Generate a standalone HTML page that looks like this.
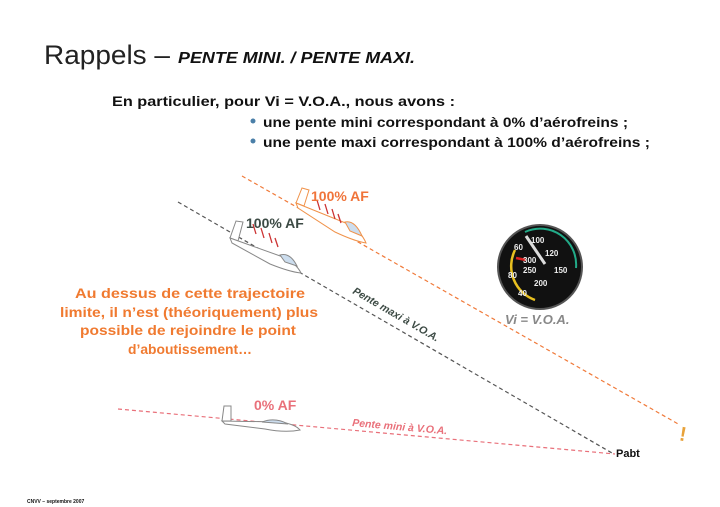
<!DOCTYPE html>
<html><head><meta charset="utf-8"><style>
body{margin:0;background:#fff;}
svg{display:block}
text{font-family:"Liberation Sans",sans-serif}
</style></head><body>
<svg width="720" height="507" viewBox="0 0 720 507" xmlns="http://www.w3.org/2000/svg">
<text x="44" y="64" font-size="27" fill="#222" textLength="126" lengthAdjust="spacingAndGlyphs">Rappels –</text>
<text x="178" y="63" font-size="16" font-style="italic" font-weight="bold" fill="#111" textLength="237" lengthAdjust="spacingAndGlyphs">PENTE MINI. / PENTE MAXI.</text>
<text x="112" y="106" font-size="14" font-weight="bold" fill="#111" textLength="343" lengthAdjust="spacingAndGlyphs">En particulier, pour Vi = V.O.A., nous avons :</text>
<circle cx="253" cy="121" r="2.5" fill="#4a7fa8"/><circle cx="253" cy="141" r="2.5" fill="#4a7fa8"/>
<text x="263" y="127" font-size="14" font-weight="bold" fill="#111" textLength="365" lengthAdjust="spacingAndGlyphs">une pente mini correspondant à 0% d’aérofreins ;</text>
<text x="263" y="147" font-size="14" font-weight="bold" fill="#111" textLength="387" lengthAdjust="spacingAndGlyphs">une pente maxi correspondant à 100% d’aérofreins ;</text>

<line x1="178" y1="202" x2="612" y2="453" stroke="#555" stroke-width="1.2" stroke-dasharray="4,3"/>
<line x1="242" y1="176" x2="680" y2="425" stroke="#f07a3a" stroke-width="1.2" stroke-dasharray="4,3"/>
<line x1="118" y1="409" x2="615" y2="454" stroke="#e9707a" stroke-width="1.2" stroke-dasharray="4,3"/>

<!-- grey glider -->
<g stroke="#888" fill="#fff" stroke-width="1">
<path d="M230,238 L236,221 L243,222 L238,241 Z"/>
<path d="M230,238 L283,257 Q296,263 301,273 Q290,272 270,264 L232,243 Z"/>
<path d="M280,255 Q290,252 297,266 L285,262 Z" fill="#cde"/>
</g>
<g stroke="#c33" stroke-width="1.3" fill="none"><path d="M256,234 l-3,-10 M264,238 l-3,-10 M272,243 l-3,-10 M278,247 l-3,-9"/></g>
<text x="246" y="228" font-size="14" font-weight="bold" fill="#3c4a44">100% AF</text>
<!-- orange glider -->
<g stroke="#f0924a" fill="#fff" stroke-width="1">
<path d="M296,203 L302,188 L309,190 L304,206 Z"/>
<path d="M296,203 L348,224 Q361,231 366,243 Q354,241 335,232 L298,208 Z"/>
<path d="M345,222 Q355,220 362,236 L350,231 Z" fill="#cde"/>
</g>
<g stroke="#c33" stroke-width="1.3" fill="none"><path d="M320,210 l-3,-10 M328,214 l-3,-10 M335,219 l-3,-10 M341,223 l-3,-9"/></g>
<text x="311" y="201" font-size="14" font-weight="bold" fill="#f0743a">100% AF</text>
<!-- 0% glider -->
<g stroke="#888" fill="#fff" stroke-width="1">
<path d="M222,421 L224,406 L231,406 L231,421 Z"/>
<path d="M222,421 L280,422 Q295,424 300,430 Q285,433 265,429 L225,424 Z"/>
<path d="M262,422 Q275,417 288,424 Z" fill="#cde"/>
</g>
<text x="254" y="410" font-size="14" font-weight="bold" fill="#e9707a">0% AF</text>

<text transform="translate(352,293) rotate(30)" font-size="10.5" font-style="italic" font-weight="bold" fill="#3c4a44">Pente maxi à V.O.A.</text>
<text transform="translate(352,426) rotate(5)" font-size="10.5" font-style="italic" font-weight="bold" fill="#e9707a">Pente mini à V.O.A.</text>
<text x="616" y="457" font-size="11" font-weight="bold" fill="#111">Pabt</text>
<text x="680" y="441" font-size="20" font-weight="bold" fill="#e8a23a" transform="rotate(10 684 432)">!</text>

<!-- gauge -->
<circle cx="540" cy="267" r="42" fill="#111" stroke="#555" stroke-width="2"/>
<path d="M525,232 A36,36 0 0 1 576,268" stroke="#2a8" stroke-width="2" fill="none"/>
<path d="M515,250 A36,36 0 0 0 535,300" stroke="#e8c020" stroke-width="2.5" fill="none"/>
<line x1="526" y1="236" x2="545" y2="264" stroke="#ddd" stroke-width="3"/>
<line x1="516" y1="258" x2="526" y2="260" stroke="#d22" stroke-width="2.5"/>
<g fill="#eee" font-size="8" font-weight="bold">
<text x="531" y="243">100</text><text x="545" y="256">120</text><text x="554" y="273">150</text>
<text x="514" y="250">60</text><text x="523" y="263">300</text><text x="523" y="273">250</text>
<text x="508" y="278">80</text><text x="534" y="286">200</text><text x="518" y="296">40</text>
</g>
<text x="505" y="324" font-size="13" font-style="italic" font-weight="bold" fill="#888">Vi = V.O.A.</text>

<g font-size="14" font-weight="bold" fill="#f07a30" lengthAdjust="spacingAndGlyphs">
<text x="75" y="298" textLength="230" lengthAdjust="spacingAndGlyphs">Au dessus de cette trajectoire</text>
<text x="60" y="317" textLength="258" lengthAdjust="spacingAndGlyphs">limite, il n’est (théoriquement) plus</text>
<text x="80" y="335" textLength="216" lengthAdjust="spacingAndGlyphs">possible de rejoindre le point</text>
<text x="128" y="354" textLength="124" lengthAdjust="spacingAndGlyphs">d’aboutissement…</text>
</g>
<text x="27" y="503" font-size="5" font-weight="bold" fill="#111">CNVV – septembre 2007</text>
</svg>
</body></html>
